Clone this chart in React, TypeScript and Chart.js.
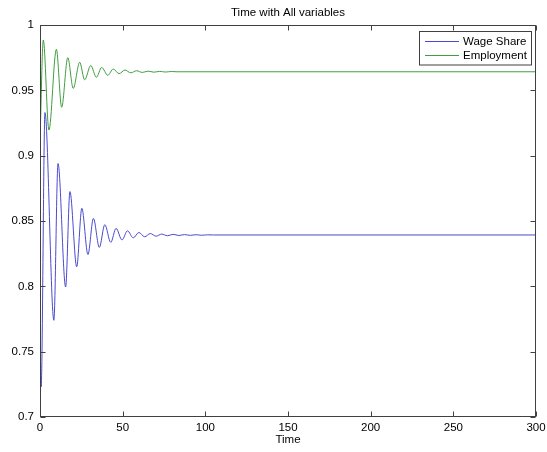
import React, { useEffect, useRef } from "react";
import { Chart, registerables } from "chart.js";

Chart.register(...registerables);

const chartTitle = "Time with All variables";
const xAxisTitle = "Time";
const seriesLabels = ["Wage Share", "Employment"];
const xTicks = [0, 50, 100, 150, 200, 250, 300];
const yTicks = [0.7, 0.75, 0.8, 0.85, 0.9, 0.95, 1];

const wageTime = [
  0, 0.7, 3.0, 8.4, 10.9, 15.5, 18.1, 22.2, 25.3, 29.0, 32.3, 35.9, 39.2, 42.8,
  46.0, 49.6, 52.9, 56.4, 59.8, 63.3, 66.7, 70.2, 73.6, 77.1, 80.5, 84.0, 87.4,
  90.9, 94.3, 97.8, 101.2, 105, 300,
];
const wageShare = [
  0.742, 0.723, 0.933, 0.774, 0.894, 0.7995, 0.8725, 0.815, 0.8597, 0.8244,
  0.852, 0.8298, 0.8472, 0.8336, 0.8444, 0.8355, 0.8425, 0.8371, 0.8412, 0.8379,
  0.8404, 0.8384, 0.84, 0.8387, 0.8398, 0.8389, 0.8396, 0.839, 0.8395, 0.8391,
  0.8394, 0.8393, 0.8393,
];

const empTime = [
  0, 2.0, 5.4, 9.9, 13.1, 16.8, 20.1, 24.0, 27.0, 30.7, 34.1, 37.3, 41.0, 44.3,
  47.8, 51.4, 54.9, 58.4, 61.9, 65.4, 68.9, 72.4, 75.9, 79.4, 83, 300,
];
const employment = [
  0.911, 0.9885, 0.9196, 0.9814, 0.937, 0.975, 0.9515, 0.9715, 0.958, 0.969,
  0.96, 0.9675, 0.9615, 0.9663, 0.9628, 0.9655, 0.9634, 0.965, 0.9637, 0.9647,
  0.9639, 0.9645, 0.964, 0.9644, 0.9642, 0.9642,
];

const COLORS = ["#4a4ad0", "#419d41"];
const FRAME = "#404040";
const FONT = "'Liberation Sans', Arial, sans-serif";
const FONT_SIZE = 11.5;

const framePlugin = {
  id: "matlabFrame",
  afterDraw(chart: any) {
    const { ctx, chartArea: a, scales } = chart;
    const xs = scales.x;
    const ys = scales.y;
    const L = Math.round(a.left) + 0.5;
    const R = Math.round(a.right) - 0.5;
    const T = Math.round(a.top) + 0.5;
    const B = Math.round(a.bottom) - 0.5;
    ctx.save();
    ctx.strokeStyle = FRAME;
    ctx.lineWidth = 1;
    ctx.strokeRect(L, T, R - L, B - T);
    const tl = 5;
    ctx.beginPath();
    xTicks.forEach((v) => {
      const px = Math.round(xs.getPixelForValue(v)) + 0.5;
      ctx.moveTo(px, B);
      ctx.lineTo(px, B - tl);
      ctx.moveTo(px, T);
      ctx.lineTo(px, T + tl);
    });
    yTicks.forEach((v) => {
      const py = Math.round(ys.getPixelForValue(v)) + 0.5;
      ctx.moveTo(L, py);
      ctx.lineTo(L + tl, py);
      ctx.moveTo(R, py);
      ctx.lineTo(R - tl, py);
    });
    ctx.stroke();

    // title
    ctx.fillStyle = "#000";
    ctx.font = `${FONT_SIZE}px ${FONT}`;
    ctx.textAlign = "center";
    ctx.textBaseline = "middle";
    ctx.fillText(chartTitle, (a.left + a.right) / 2, 13);

    // legend
    const bx = 419.5, by = 31.5, bw = 112, bh = 33.5;
    ctx.fillStyle = "#fff";
    ctx.fillRect(bx, by, bw, bh);
    ctx.strokeStyle = FRAME;
    ctx.strokeRect(bx, by, bw, bh);
    const rows = [41.5, 55.5];
    chart.data.datasets.forEach((ds: any, i: number) => {
      ctx.strokeStyle = ds.borderColor;
      ctx.beginPath();
      ctx.moveTo(425, rows[i]);
      ctx.lineTo(459, rows[i]);
      ctx.stroke();
      ctx.fillStyle = "#000";
      ctx.textAlign = "left";
      ctx.textBaseline = "middle";
      ctx.fillText(ds.label, 463, rows[i]);
    });
    ctx.restore();
  },
};

export default function App() {
  const ref = useRef<HTMLCanvasElement | null>(null);
  useEffect(() => {
    document.body.style.margin = "0";
    const canvas = ref.current;
    if (!canvas) return;
    const chart = new Chart(canvas, {
      type: "line",
      data: {
        datasets: [
          {
            label: seriesLabels[0],
            data: wageTime.map((t, i) => ({ x: t, y: wageShare[i] })),
            borderColor: COLORS[0],
            borderWidth: 1,
            pointRadius: 0,
            cubicInterpolationMode: "monotone",
            fill: false,
          },
          {
            label: seriesLabels[1],
            data: empTime.map((t, i) => ({ x: t, y: employment[i] })),
            borderColor: COLORS[1],
            borderWidth: 1,
            pointRadius: 0,
            cubicInterpolationMode: "monotone",
            fill: false,
          },
        ],
      },
      options: {
        animation: false,
        responsive: false,
        devicePixelRatio: 1,
        layout: { padding: { top: 25, right: 11, left: 0, bottom: 0 } },
        plugins: {
          legend: { display: false },
          title: { display: false },
          tooltip: { enabled: false },
        },
        scales: {
          x: {
            type: "linear",
            min: 0,
            max: 300,
            afterBuildTicks: (s: any) => {
              s.ticks = xTicks.map((v) => ({ value: v }));
            },
            afterFit: (s: any) => {
              s.height = 35;
              s.paddingLeft = 0;
              s.paddingRight = 0;
            },
            grid: { display: false, drawTicks: false },
            border: { display: false },
            ticks: {
              color: "#000",
              padding: 4,
              maxRotation: 0,
              font: { family: FONT, size: FONT_SIZE },
            },
            title: {
              display: true,
              text: xAxisTitle,
              color: "#000",
              font: { family: FONT, size: FONT_SIZE },
              padding: { top: 0, bottom: 5 },
            },
          },
          y: {
            type: "linear",
            min: 0.7,
            max: 1,
            afterBuildTicks: (s: any) => {
              s.ticks = yTicks.map((v) => ({ value: v }));
            },
            afterFit: (s: any) => {
              s.width = 40;
              s.paddingTop = 0;
              s.paddingBottom = 0;
            },
            grid: { display: false, drawTicks: false },
            border: { display: false },
            ticks: {
              color: "#000",
              padding: 6,
              font: { family: FONT, size: FONT_SIZE },
              callback: (v: any) => String(+Number(v).toFixed(2)),
            },
          },
        },
      },
      plugins: [framePlugin],
    } as any);
    return () => chart.destroy();
  }, []);
  return (
    <div style={{ position: "fixed", left: 0, top: 0, width: 547, height: 452, background: "#fff" }}>
      <canvas ref={ref} width={547} height={452} />
    </div>
  );
}
